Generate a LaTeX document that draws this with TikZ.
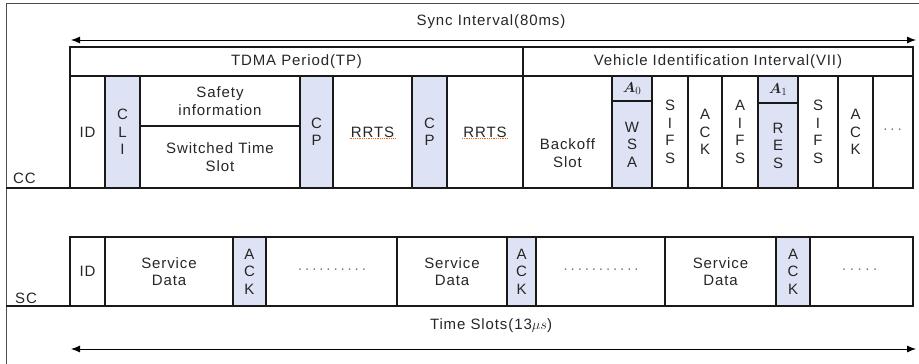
\documentclass[tikz,border=0pt]{standalone}
\usepackage{amsmath}
\usepackage{fontspec}
\setmainfont{Liberation Sans}[LetterSpace=6]
\usetikzlibrary{arrows.meta,calc}
\definecolor{cellblue}{RGB}{221,227,245}
\definecolor{linecol}{RGB}{25,25,25}
\definecolor{dotgray}{RGB}{120,120,120}
\newcommand{\cellbox}[7]{\node[cellnode,#6,minimum width={(#4)-(#2)},minimum height={(#5)-(#3)}] (#1) at ({((#2)+(#4))/2},{((#3)+(#5))/2}) {#7};}
\newcommand{\dotrow}[2]{\foreach \i in {1,...,#1}{.\kern#2pt}}
\begin{document}
\begin{tikzpicture}[x=1pt,y=-1pt,
  font=\fontsize{15}{17.5}\selectfont,
  cellnode/.style={draw=linecol,line width=1.2pt,inner sep=0pt,outer sep=0pt,align=center,text=black!85},
  bluecell/.style={fill=cellblue},
  outerline/.style={draw=linecol,line width=2pt},
  frameline/.style={draw=black!70,line width=0.8pt},
  ruleline/.style={draw=linecol,line width=1.4pt},
  dim/.style={draw=black,line width=0.9pt,{Latex[length=9pt,width=7pt]}-{Latex[length=9pt,width=7pt]}},
  txt/.style={inner sep=0pt,text=black!85},
  dots/.style={inner sep=0pt,text=dotgray},
  squig/.style={draw=orange!80!red,line width=0.7pt,dash pattern=on 0.8pt off 1pt}]
\useasboundingbox (0,0) rectangle (919,364);
% outer frame
\coordinate (fBL) at (6,364);
\coordinate (fTL) at (6,3);
\coordinate (fTR) at (919,3);
\draw[frameline] (fBL) -- (fTL) -- (fTR);
% sync arrow
\coordinate (syncL) at (71,40);
\coordinate (syncR) at (916,40);
\draw[dim] (syncL) -- (syncR);
\node[txt] (synclbl) at (491,22) {Sync Interval(80ms)};
% CC headers
\cellbox{tdma}{70}{47}{523}{76}{}{TDMA Period(TP)}
\cellbox{vii}{523}{47}{913}{76}{}{Vehicle Identification Interval(VII)}
% CC cells
\cellbox{id1}{70}{76}{105}{188}{}{ID}
\cellbox{cli}{105}{76}{140}{188}{bluecell}{C\\L\\I}
\cellbox{safety}{140}{76}{300}{126}{}{Safety\\information}
\cellbox{switched}{140}{126}{300}{188}{}{Switched Time\\Slot}
\cellbox{cp1}{300}{76}{333}{188}{bluecell}{C\\P}
\cellbox{rrts1}{333}{76}{412}{188}{}{RRTS}
\cellbox{cp2}{412}{76}{447}{188}{bluecell}{C\\P}
\cellbox{rrts2}{447}{76}{523}{188}{}{RRTS}
\cellbox{backoff}{523}{76}{612}{188}{}{}
\cellbox{a0}{612}{76}{652}{101}{bluecell}{$\boldsymbol{A}_0$}
\cellbox{wsa}{612}{101}{652}{188}{bluecell}{W\\S\\A}
\cellbox{sifs1}{652}{76}{688}{188}{}{S\\I\\F\\S}
\cellbox{ack1}{688}{76}{722}{188}{}{A\\C\\K}
\cellbox{aifs}{722}{76}{758}{188}{}{A\\I\\F\\S}
\cellbox{a1}{758}{76}{798}{103}{bluecell}{$\boldsymbol{A}_1$}
\cellbox{res}{758}{103}{798}{188}{bluecell}{R\\E\\S}
\cellbox{sifs2}{798}{76}{838}{188}{}{S\\I\\F\\S}
\cellbox{ack2}{838}{76}{873}{188}{}{A\\C\\K}
\cellbox{more}{873}{76}{913}{188}{}{}
\node[txt,align=center] (backofftxt) at ($(backoff.center)+(0,21)$) {Backoff\\Slot};
\node[dots] (moredots) at ($(more.center)+(1,-2)$) {\dotrow{3}{3}};
% spell-check squiggles under RRTS
\draw[squig] ($(rrts1.center)+(-23,6)$) -- ($(rrts1.center)+(23,6)$);
\draw[squig] ($(rrts2.center)+(-23,6)$) -- ($(rrts2.center)+(23,6)$);
% CC outlines
\draw[outerline] (tdma.north west) rectangle (more.south east);
\draw[outerline] (tdma.south west) -- (vii.south east);
\draw[outerline] (vii.north west) -- (backoff.south west);
\coordinate (ccL) at (6,188);
\draw[ruleline] (ccL) -- (id1.south west);
\node[txt,anchor=base west] (cclbl) at (13,183) {CC};
% SC cells
\cellbox{sid}{70}{237}{105}{306}{}{ID}
\cellbox{sd1}{105}{237}{233}{306}{}{Service\\Data}
\cellbox{sack1}{233}{237}{266}{306}{bluecell}{A\\C\\K}
\cellbox{sdots1}{266}{237}{397}{306}{}{}
\cellbox{sd2}{397}{237}{507}{306}{}{Service\\Data}
\cellbox{sack2}{507}{237}{536}{306}{bluecell}{A\\C\\K}
\cellbox{sdots2}{536}{237}{665}{306}{}{}
\cellbox{sd3}{665}{237}{776}{306}{}{Service\\Data}
\cellbox{sack3}{776}{237}{810}{306}{bluecell}{A\\C\\K}
\cellbox{sdots3}{810}{237}{913}{306}{}{}
\node[dots] (d1) at ($(sdots1.center)+(2,-2)$) {\dotrow{10}{2.9}};
\node[dots] (d2) at ($(sdots2.center)+(2,-2)$) {\dotrow{11}{2.9}};
\node[dots] (d3) at ($(sdots3.center)+(0,-2)$) {\dotrow{5}{3.6}};
\draw[outerline] (sid.north west) rectangle (sdots3.south east);
\coordinate (scL) at (6,306);
\draw[ruleline] (scL) -- (sid.south west);
\node[txt,anchor=base west] (sclbl) at (15,303) {SC};
% time slots arrow
\coordinate (tsL) at (71,349);
\coordinate (tsR) at (916,349);
\draw[dim] (tsL) -- (tsR);
\node[txt] (tslbl) at (491,326) {Time Slots(13$\mu s$)};
\end{tikzpicture}
\end{document}
